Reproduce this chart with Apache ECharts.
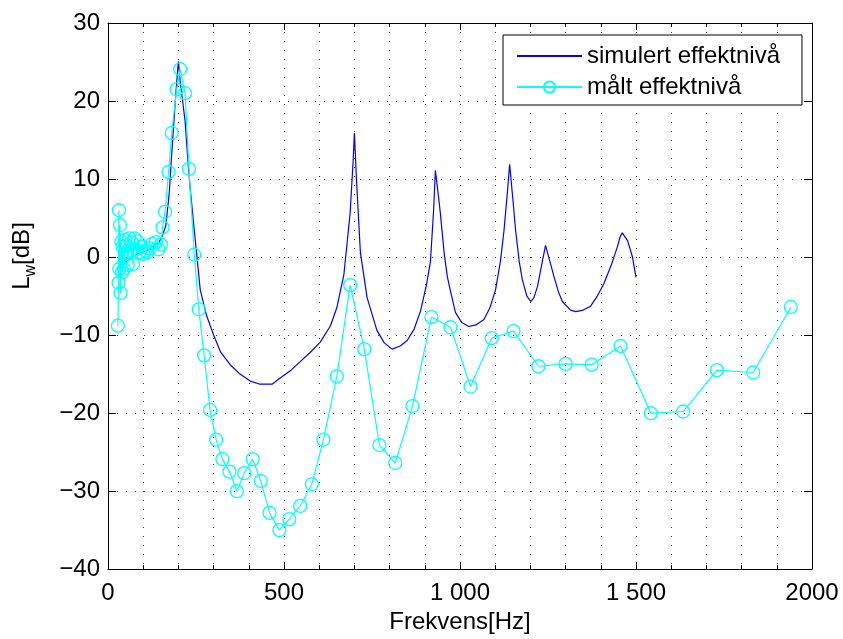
<!DOCTYPE html>
<html>
<head>
<meta charset="utf-8">
<script src="https://cdn.jsdelivr.net/npm/echarts@6/dist/echarts.min.js"></script>
<style>
html,body{margin:0;padding:0;background:#fff;}
#chart{width:843px;height:639px;}
</style>
</head>
<body>
<div id="chart"></div>
<script>
// Simulated power level (Hz, dB)
const simFreq = [40,60,83,105,121,135,145,155,164,170,174,180,186,192,197,200,205,212,219,226,233,245,257,262,280,300,320,347,375,404,432,466,489,520,546,575,603,632,650,670,688,696,700,706,717,736,764,785,807,830,850,870,888,905,916,925,930,937,944,955,964,973,987,1005,1025,1045,1068,1085,1101,1115,1125,1135,1141,1150,1158,1168,1177,1190,1201,1210,1220,1232,1243,1255,1267,1280,1291,1314,1329,1350,1371,1390,1409,1430,1447,1455,1461,1476,1490,1500];
const simLevel = [-1.0,-0.3,0.4,0.7,1.0,1.5,1.9,2.8,4.0,6.5,8.2,12.5,16.5,20.5,23.5,25.1,22.5,20.0,17.4,13.0,9.0,3.5,-1.9,-4.2,-7.5,-10.0,-12.2,-13.8,-15.0,-15.9,-16.3,-16.3,-15.5,-14.5,-13.4,-12.2,-10.9,-8.8,-6.5,-2.3,5.7,12.0,15.9,9.8,0.6,-5.2,-9.4,-11.0,-11.8,-11.4,-10.7,-9.2,-6.9,-3.5,-0.6,6.0,11.1,8.5,5.7,0.5,-2.5,-4.4,-7.1,-8.4,-8.9,-8.7,-8.0,-6.5,-4.2,-0.5,3.4,8.5,11.9,7.5,3.4,-0.5,-2.9,-5.0,-5.7,-5.2,-3.8,-1.0,1.5,-0.5,-2.5,-4.5,-5.7,-6.8,-7.0,-6.8,-6.3,-5.0,-3.4,-1.0,1.3,2.6,3.1,2.1,0.0,-2.6];

// Measured power level (Hz, dB)
const measFreq = [28,30,31,32,34,36,38,40,42,45,48,50,53,56,60,63,67,71,75,80,85,90,95,100,106,112,118,125,136,143,150,155,162,172,181,195,205,219,230,245,258,273,290,307,325,345,366,387,411,434,459,487,515,546,579,612,650,688,728,771,816,865,919,973,1030,1090,1152,1223,1300,1374,1456,1542,1634,1730,1833,1940];
const measLevel = [-8.8,-3.3,6.0,-1.5,4.1,-4.6,2.0,-2.0,1.3,-1.5,2.2,0.5,1.5,-1.0,2.4,0.8,1.9,-0.9,2.4,1.0,2.0,0.6,1.3,0.4,0.8,0.6,1.1,1.7,1.9,1.0,1.6,3.8,5.8,10.9,15.9,21.5,24.1,21.0,11.3,0.3,-6.7,-12.6,-19.6,-23.4,-25.9,-27.5,-30.0,-27.7,-25.9,-28.7,-32.8,-35.0,-33.6,-31.9,-29.1,-23.4,-15.3,-3.6,-11.8,-24.1,-26.4,-19.1,-7.7,-9.0,-16.6,-10.4,-9.5,-14.0,-13.7,-13.8,-11.4,-20.0,-19.8,-14.5,-14.8,-6.4];

const xTickValues = [0, 500, 1000, 1500, 2000];
const xTickLabels = ['0', '500', '1 000', '1 500', '2000'];
const seriesNames = ['simulert effektnivå', 'målt effektnivå'];

const FONT = 'Liberation Sans, Arial, Helvetica, sans-serif';
const chart = echarts.init(document.getElementById('chart'), null, {renderer: 'canvas'});

const dotted = {type: [1, 8], color: '#333', width: 1};

const option = {
  backgroundColor: '#fff',
  animation: false,
  textStyle: {fontFamily: FONT},
  grid: {left: 108, right: 31, top: 23, bottom: 63, show: false},
  graphic: [{
    type: 'text',
    x: 22, y: 256,
    rotation: Math.PI / 2,
    style: {
      text: '{a|L}{s|w}{a|[dB]}',
      align: 'center', verticalAlign: 'middle',
      fill: '#000',
      rich: {
        a: {fontSize: 24, fill: '#000', fontFamily: FONT, lineHeight: 34, verticalAlign: 'middle'},
        s: {fontSize: 16, fill: '#000', fontFamily: FONT, lineHeight: 34, verticalAlign: 'bottom'}
      }
    }
  }],
  legend: {
    orient: 'vertical',
    left: 503, top: 35,
    data: [{name: seriesNames[0], itemStyle: {opacity: 0}}, {name: seriesNames[1]}],
    backgroundColor: '#fff',
    borderColor: '#000', borderWidth: 1,
    padding: [9, 22, 6, 13],
    itemGap: 7,
    itemWidth: 65, itemHeight: 14,
    textStyle: {fontSize: 24, color: '#000', fontFamily: FONT}
  },
  xAxis: [{
    type: 'value', min: 0, max: 2000, interval: 500,
    position: 'bottom',
    name: 'Frekvens[Hz]', nameLocation: 'middle', nameGap: 40,
    nameTextStyle: {fontSize: 24, color: '#000', fontFamily: FONT},
    axisLine: {show: true, onZero: false, lineStyle: {color: '#000', width: 1}},
    axisTick: {show: true, inside: true, length: 7, lineStyle: {color: '#000'}},
    minorTick: {show: true, splitNumber: 5, length: 4, lineStyle: {color: '#000'}},
    axisLabel: {fontSize: 24, color: '#000', margin: 12, fontFamily: FONT,
      formatter: v => { const i = xTickValues.indexOf(v); return i >= 0 ? xTickLabels[i] : ''; }},
    splitLine: {show: true, lineStyle: dotted},
    minorSplitLine: {show: true, lineStyle: dotted}
  }, {
    type: 'value', min: 0, max: 2000, interval: 500, position: 'top',
    axisLine: {show: true, onZero: false, lineStyle: {color: '#000', width: 1}},
    axisTick: {show: true, inside: true, length: 7, lineStyle: {color: '#000'}},
    minorTick: {show: true, splitNumber: 5, length: 4, lineStyle: {color: '#000'}},
    axisLabel: {show: false}, splitLine: {show: false}
  }],
  yAxis: [{
    type: 'value', min: -40, max: 30, interval: 10,
    position: 'left',
    axisLine: {show: true, onZero: false, lineStyle: {color: '#000', width: 1}},
    axisTick: {show: true, inside: true, length: 8, lineStyle: {color: '#000'}},
    axisLabel: {fontSize: 24, color: '#000', margin: 8, fontFamily: FONT,
      formatter: v => v < 0 ? '\u2212' + (-v) : String(v)},
    splitLine: {show: true, lineStyle: dotted}
  }, {
    type: 'value', min: -40, max: 30, interval: 10, position: 'right',
    axisLine: {show: true, onZero: false, lineStyle: {color: '#000', width: 1}},
    axisTick: {show: true, inside: true, length: 8, lineStyle: {color: '#000'}},
    axisLabel: {show: false}, splitLine: {show: false}
  }],
  series: [{
    name: seriesNames[0], type: 'line',
    xAxisIndex: 0, yAxisIndex: 0,
    data: simFreq.map((f, i) => [f, simLevel[i]]),
    symbol: 'none', smooth: false,
    lineStyle: {color: '#0000ff', width: 1.2},
    itemStyle: {color: '#0000ff'},
    z: 3
  }, {
    name: seriesNames[1], type: 'line',
    xAxisIndex: 0, yAxisIndex: 0,
    data: measFreq.map((f, i) => [f, measLevel[i]]),
    symbol: 'circle', symbolSize: 13, showSymbol: true,
    lineStyle: {color: '#00ffff', width: 1.2},
    itemStyle: {color: 'rgba(0,0,0,0)', borderColor: '#00ffff', borderWidth: 1.3},
    z: 4
  }]
};
chart.setOption(option);
</script>
</body>
</html>
